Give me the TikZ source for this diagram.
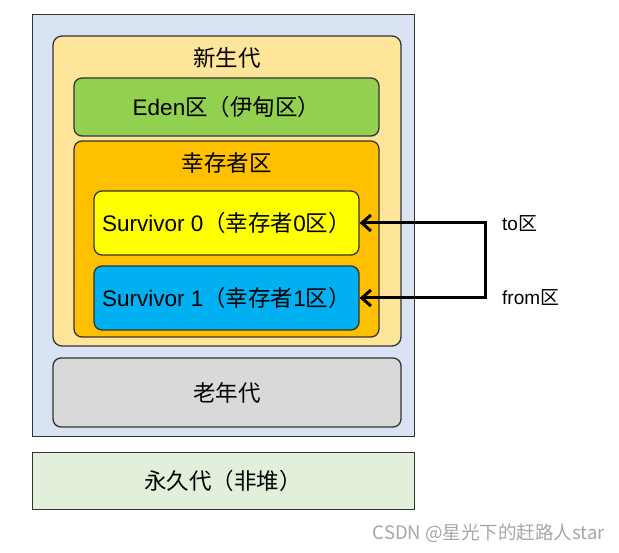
\documentclass[tikz,border=0pt]{standalone}
\usepackage{fontspec}
\setmainfont{Liberation Sans}
\newfontfamily\cjk{Noto Sans CJK SC}
\usepackage{tikz}
\usetikzlibrary{arrows.meta, positioning}
\definecolor{heapblue}{HTML}{DAE3F3}
\definecolor{younggen}{HTML}{FFE599}
\definecolor{edengreen}{HTML}{92D050}
\definecolor{survorange}{HTML}{FFC000}
\definecolor{survyellow}{HTML}{FFFF00}
\definecolor{survblue}{HTML}{00B0F0}
\definecolor{oldgrey}{HTML}{D9D9D9}
\definecolor{permgreen}{HTML}{E2EFDA}

\begin{document}
\begin{tikzpicture}
                            [x=1pt, y=-1pt,
                             every node/.style={inner sep=0pt, font=\fontsize{22.5}{27}\selectfont},
                             area/.style={draw=black!80, line width=1pt},
                             zone/.style={area, line width=1.3pt, rounded corners=9pt},
                             arrow/.style={line width=3pt, {Straight Barb[length=9pt, width=16pt]}-{Straight Barb[length=9pt, width=16pt]}}]

                            \useasboundingbox (0,0) rectangle (619,553);

                            \node[area, fill=heapblue, minimum width=382, minimum height=422] (heap) at (223,226) {};
                            \node[zone, fill=younggen, minimum width=348, minimum height=310] (young) at (227,191) {};
                            \node (younglabel) at (227,58) {\cjk 新生代};
                            \node[zone, rounded corners=8pt, fill=edengreen, minimum width=305, minimum height=58] (eden) at (226.5,107) {Eden{\cjk 区（伊甸区）}};
                            \node[zone, rounded corners=8pt, fill=survorange, minimum width=305, minimum height=196] (surv) at (226.5,239) {};
                            \node (survlabel) at (226.5,163) {\cjk 幸存者区};
                            \node[zone, rounded corners=8pt, fill=survyellow, minimum width=265, minimum height=64] (s0) at (226.5,223) {Survivor 0{\cjk （幸存者}0{\cjk 区）}};
                            \node[zone, rounded corners=8pt, fill=survblue, minimum width=265, minimum height=64] (s1) at (226.5,298) {Survivor 1{\cjk （幸存者}1{\cjk 区）}};
                            \node[zone, rounded corners=8pt, fill=oldgrey, minimum width=348, minimum height=69] (old) at (227,392.5) {\cjk 老年代};
                            \node[area, fill=permgreen, minimum width=382, minimum height=56] (perm) at (223,481) {\cjk 永久代（非堆）};

                            \coordinate (turn) at (485,223);
                            \draw[arrow] (s0.east) -- (turn) |- (s1.east);
                            \node[anchor=west, font=\fontsize{19}{23}\selectfont] (tolabel) at (502,224) {to{\cjk 区}};
                            \node[anchor=west, font=\fontsize{19}{23}\selectfont] (fromlabel) at (502,298) {from{\cjk 区}};

                            \node[anchor=east, text=black!35, font=\cjk\fontsize{18.5}{22}\selectfont] (mark) at (605,533) {CSDN @星光下的赶路人star};
                        \end{tikzpicture}
\end{document}
